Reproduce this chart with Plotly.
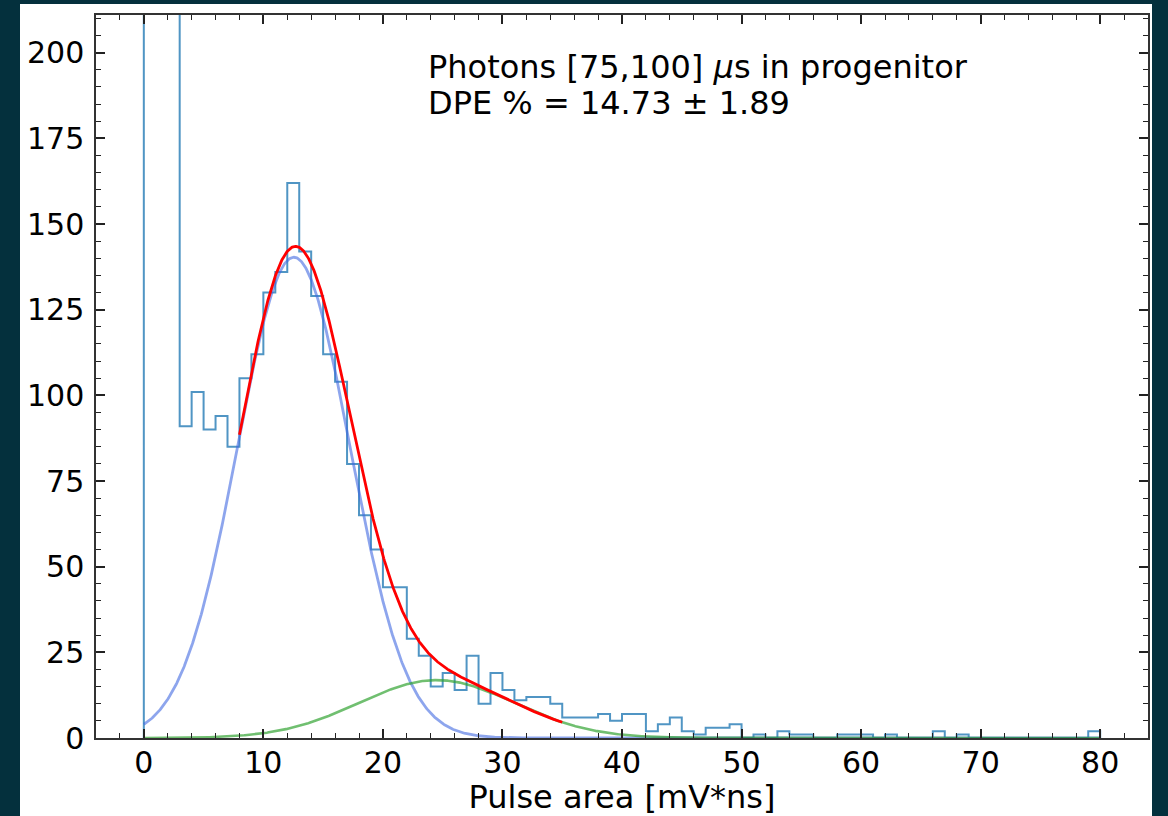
import numpy as np
import plotly.graph_objects as go

# ---- data ----
bin_edges = list(range(0, 81))  # 1 mV*ns bins from 0 to 80
counts = [
    950, 600, 260, 91, 101, 90, 94, 85, 105, 112,        # 0-9
    130, 136, 162, 142, 129, 112, 104, 80, 65, 55,       # 10-19
    44, 44, 29, 24, 15, 19, 14, 24, 10, 19,              # 20-29
    14, 11, 12, 12, 10, 6, 6, 6, 7, 5,                   # 30-39
    7, 7, 2, 4, 6, 2, 1, 3, 3, 4,                        # 40-49
    0, 1, 0, 2, 1, 1, 0, 0, 1, 1,                        # 50-59
    1, 0, 1, 0, 0, 0, 2, 0, 1, 0,                        # 60-69
    0, 0, 0, 0, 0, 0, 0, 0, 0, 2,                        # 70-79
]

# fitted Gaussian parameters (amplitude, mean, sigma)
spe_fit = [140.3, 12.55, 4.7]
dpe_fit = [16.9, 24.5, 6.5]
fit_range = [8, 35]
curve_range = [0, 80]

annot_line1 = "Photons [75,100] <i>μ</i>s in progenitor"
annot_line2 = "DPE % = 14.73 ± 1.89"
x_title = "Pulse area [mV*ns]"


def gauss(x, a, m, s):
    return a * np.exp(-((x - m) ** 2) / (2 * s ** 2))


# step outline of the histogram
step_x = [bin_edges[0]] + bin_edges[:-1] + [bin_edges[-1], bin_edges[-1]]
step_y = [0] + counts + [counts[-1], 0]

xc = np.linspace(curve_range[0], curve_range[1], 1601)
xf = np.linspace(fit_range[0], fit_range[1], 600)

FONT = "DejaVu Sans"

fig = go.Figure()
fig.add_trace(go.Scatter(
    x=step_x, y=step_y, mode="lines", line=dict(shape="hv", color="rgba(31,119,180,0.78)", width=2),
    showlegend=False, hoverinfo="skip"))
fig.add_trace(go.Scatter(
    x=xc, y=gauss(xc, *spe_fit), mode="lines",
    line=dict(color="rgba(65,105,225,0.6)", width=2.8), showlegend=False))
fig.add_trace(go.Scatter(
    x=xc, y=gauss(xc, *dpe_fit), mode="lines",
    line=dict(color="rgba(44,160,44,0.68)", width=2.6), showlegend=False))
fig.add_trace(go.Scatter(
    x=xf, y=gauss(xf, *spe_fit) + gauss(xf, *dpe_fit), mode="lines",
    line=dict(color="red", width=2.8), showlegend=False))

# plot-area geometry (px) for the light page background
L, R, T, B = 96, 20, 15, 78
W, H = 1168, 816
pw, ph = W - L - R, H - T - B


def px_to_paper_x(px):
    return (px - L) / pw


def px_to_paper_y(py):
    return (H - B - py) / ph


fig.add_shape(type="rect", xref="paper", yref="paper",
              x0=px_to_paper_x(20), x1=px_to_paper_x(1152),
              y0=px_to_paper_y(820), y1=px_to_paper_y(4),
              fillcolor="white", line=dict(width=0), layer="below")

fig.add_annotation(xref="paper", yref="paper", x=px_to_paper_x(426), y=px_to_paper_y(67),
                   xanchor="left", yanchor="middle", showarrow=False, text=annot_line1,
                   font=dict(family=FONT, size=32, color="black"))
fig.add_annotation(xref="paper", yref="paper", x=px_to_paper_x(426), y=px_to_paper_y(103),
                   xanchor="left", yanchor="middle", showarrow=False, text=annot_line2,
                   font=dict(family=FONT, size=32, color="black"))

axis_common = dict(
    showline=True, linecolor="#333333", linewidth=1.5, mirror="allticks",
    ticks="inside", ticklen=9, tickwidth=1.6, tickcolor="#222222",
    showgrid=False, zeroline=False,
    tickfont=dict(family=FONT, size=30, color="black"),
)

fig.update_xaxes(range=[-4, 84], tick0=0, dtick=10,
                 minor=dict(ticks="inside", ticklen=5, tickwidth=1.2, tickcolor="#222222",
                            tick0=0, dtick=2, showgrid=False),
                 title=dict(text=x_title, font=dict(family=FONT, size=32, color="black"), standoff=8),
                 ticklabelstandoff=-3,
                 **axis_common)
fig.update_yaxes(range=[0, 211], tick0=0, dtick=25,
                 minor=dict(ticks="inside", ticklen=5, tickwidth=1.2, tickcolor="#222222",
                            tick0=0, dtick=5, showgrid=False),
                 ticklabelstandoff=4,
                 **axis_common)

fig.update_layout(
    width=W, height=H,
    margin=dict(l=L, r=R, t=T, b=B, autoexpand=False),
    paper_bgcolor="#04303d", plot_bgcolor="white",
    font=dict(family=FONT, size=30, color="black"),
)

fig.write_html("out.html")
